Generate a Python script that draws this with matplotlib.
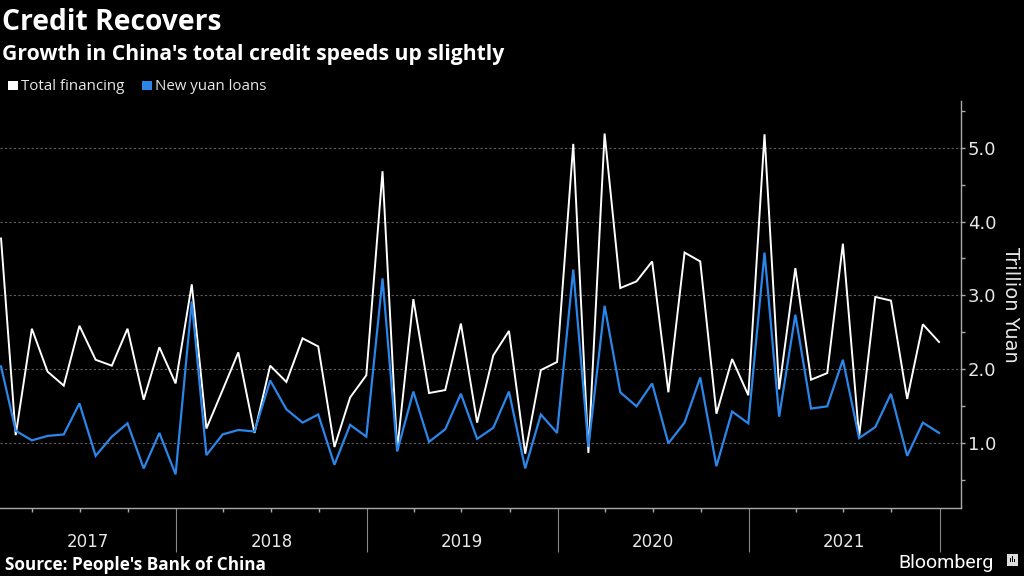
import matplotlib
matplotlib.use('Agg')
import matplotlib.pyplot as plt
import matplotlib.dates as mdates
import matplotlib.ticker as mticker
import matplotlib.transforms as mtrans
from matplotlib.patches import Rectangle
import pandas as pd
import datetime as dt

# Monthly data, Jan 2017 - Dec 2021 (trillion yuan)
total_financing = [3.77, 1.11, 2.55, 1.97, 1.78, 2.59, 2.13, 2.05, 2.55, 1.59, 2.30, 1.81,
                   3.15, 1.20, 1.72, 2.23, 1.14, 2.05, 1.83, 2.42, 2.31, 0.95, 1.62, 1.92,
                   4.68, 0.91, 2.95, 1.68, 1.72, 2.62, 1.28, 2.19, 2.52, 0.86, 1.99, 2.10,
                   5.05, 0.87, 5.19, 3.10, 3.19, 3.46, 1.69, 3.58, 3.46, 1.40, 2.14, 1.65,
                   5.18, 1.73, 3.37, 1.86, 1.95, 3.70, 1.09, 2.98, 2.93, 1.60, 2.61, 2.37]
new_yuan_loans = [2.04, 1.17, 1.04, 1.10, 1.12, 1.54, 0.83, 1.09, 1.27, 0.66, 1.14, 0.58,
                  2.92, 0.84, 1.12, 1.18, 1.16, 1.85, 1.46, 1.28, 1.39, 0.71, 1.25, 1.09,
                  3.23, 0.89, 1.70, 1.02, 1.19, 1.67, 1.06, 1.21, 1.70, 0.66, 1.39, 1.14,
                  3.35, 0.95, 2.86, 1.69, 1.50, 1.81, 1.00, 1.28, 1.89, 0.69, 1.43, 1.27,
                  3.58, 1.36, 2.74, 1.47, 1.50, 2.13, 1.07, 1.22, 1.67, 0.83, 1.28, 1.14]
years = [2017, 2018, 2019, 2020, 2021]
y_ticks = [1.0, 2.0, 3.0, 4.0, 5.0]

dates = pd.date_range('2017-01-01', periods=len(total_financing), freq='MS') + pd.offsets.MonthEnd(0)
x = mdates.date2num(dates.to_pydatetime())

W, H = 1024, 576
fig = plt.figure(figsize=(W / 100, H / 100), dpi=100, facecolor='black')
ax = fig.add_axes([0, 68 / H, 961 / W, 407 / H])
ax.set_facecolor('black')

ax.plot(x, total_financing, color='white', lw=1.4, zorder=3, solid_joinstyle='miter')
ax.plot(x, new_yuan_loans, color='#2a86e8', lw=1.6, zorder=4, solid_joinstyle='miter')

xmin = mdates.date2num(dt.datetime(2017, 1, 29))
xmax = mdates.date2num(dt.datetime(2022, 2, 11))
ax.set_xlim(xmin, xmax)
ax.set_ylim(0.125, 5.63)

for s in ['left', 'top']:
    ax.spines[s].set_visible(False)
for s in ['right', 'bottom']:
    ax.spines[s].set_color('#aaaaaa')
    ax.spines[s].set_linewidth(1.0)

# y axis on the right
ax.yaxis.tick_right()
ax.set_yticks(y_ticks)
ax.set_yticklabels([f'{v:.1f}' for v in y_ticks])
ax.yaxis.set_minor_locator(mticker.FixedLocator([0.5, 1.5, 2.5, 3.5, 4.5, 5.5]))
ax.tick_params(axis='y', which='both', colors='#aaaaaa', length=3, width=1, pad=2,
               labelcolor='#e8e8e8', labelsize=13)
for lab in ax.get_yticklabels():
    lab.set_family('DejaVu Sans')
ax.yaxis.set_label_position('right')
ax.set_ylabel('Trillion Yuan', color='#e8e8e8', fontsize=14, rotation=270, labelpad=17,
              family='DejaVu Sans')

# x axis: year boundaries + quarterly minor ticks
major = [mdates.date2num(dt.datetime(y, 1, 1)) for y in range(2018, 2023)]
minor = [mdates.date2num(dt.datetime(y, m, 1)) for y in range(2017, 2022) for m in (4, 7, 10)]
ax.xaxis.set_major_locator(mticker.FixedLocator(major))
ax.xaxis.set_minor_locator(mticker.FixedLocator(minor))
ax.xaxis.set_major_formatter(mticker.NullFormatter())
ax.tick_params(axis='x', which='major', length=32, width=0.8, colors='#888888')
ax.tick_params(axis='x', which='minor', length=3, width=1, colors='#aaaaaa')

ax.yaxis.grid(True, which='major', ls=(0, (2, 2)), color='#606060', lw=0.8)
ax.set_axisbelow(True)

# year labels
btrans = mtrans.blended_transform_factory(ax.transData, fig.transFigure)
for yr in years:
    a = max(mdates.date2num(dt.datetime(yr, 1, 1)), xmin)
    b = mdates.date2num(dt.datetime(yr + 1, 1, 1))
    ax.text((a + b) / 2, 1 - 541.7 / H, str(yr), transform=btrans, ha='center', va='center',
            color='#e8e8e8', fontsize=12, family='DejaVu Sans')

# titles
fig.text(2 / W, 1 - 30 / H, 'Credit Recovers', color='white', fontsize=20.3, weight='bold',
         family='Open Sans', va='baseline', ha='left')
fig.text(2 / W, 1 - 60 / H, "Growth in China's total credit speeds up slightly", color='white',
         fontsize=15.2, weight='bold', family='Open Sans', va='baseline', ha='left')

# legend
fig.patches.append(Rectangle((8 / W, 1 - 90 / H), 10 / W, 9 / H, transform=fig.transFigure,
                             facecolor='white', edgecolor='none'))
fig.text(21 / W, 1 - 90 / H, 'Total financing', color='#e8e8e8', fontsize=10.9,
         family='Open Sans', va='baseline', ha='left')
fig.patches.append(Rectangle((142 / W, 1 - 90 / H), 10 / W, 9 / H, transform=fig.transFigure,
                             facecolor='#2a86e8', edgecolor='none'))
fig.text(155 / W, 1 - 90 / H, 'New yuan loans', color='#e8e8e8', fontsize=10.8,
         family='Open Sans', va='baseline', ha='left')

# footer
fig.text(5 / W, 1 - 570 / H, "Source: People's Bank of China", color='white', fontsize=12.3,
         weight='bold', family='Open Sans', va='baseline', ha='left')
fig.text(898 / W, 1 - 568 / H, 'Bloomberg', color='white', fontsize=14,
         family='Roboto', va='baseline', ha='left')
fig.patches.append(Rectangle((1007 / W, 1 - 566 / H), 11 / W, 12 / H, transform=fig.transFigure,
                             facecolor='#dddddd', edgecolor='none'))
for i, hgt in enumerate([4, 6, 3]):
    fig.patches.append(Rectangle(((1009.5 + i * 2.3) / W, 1 - 562 / H), 1.2 / W, hgt / H,
                                 transform=fig.transFigure, facecolor='black', edgecolor='none'))

fig.savefig('out.png', dpi=100, facecolor='black')
